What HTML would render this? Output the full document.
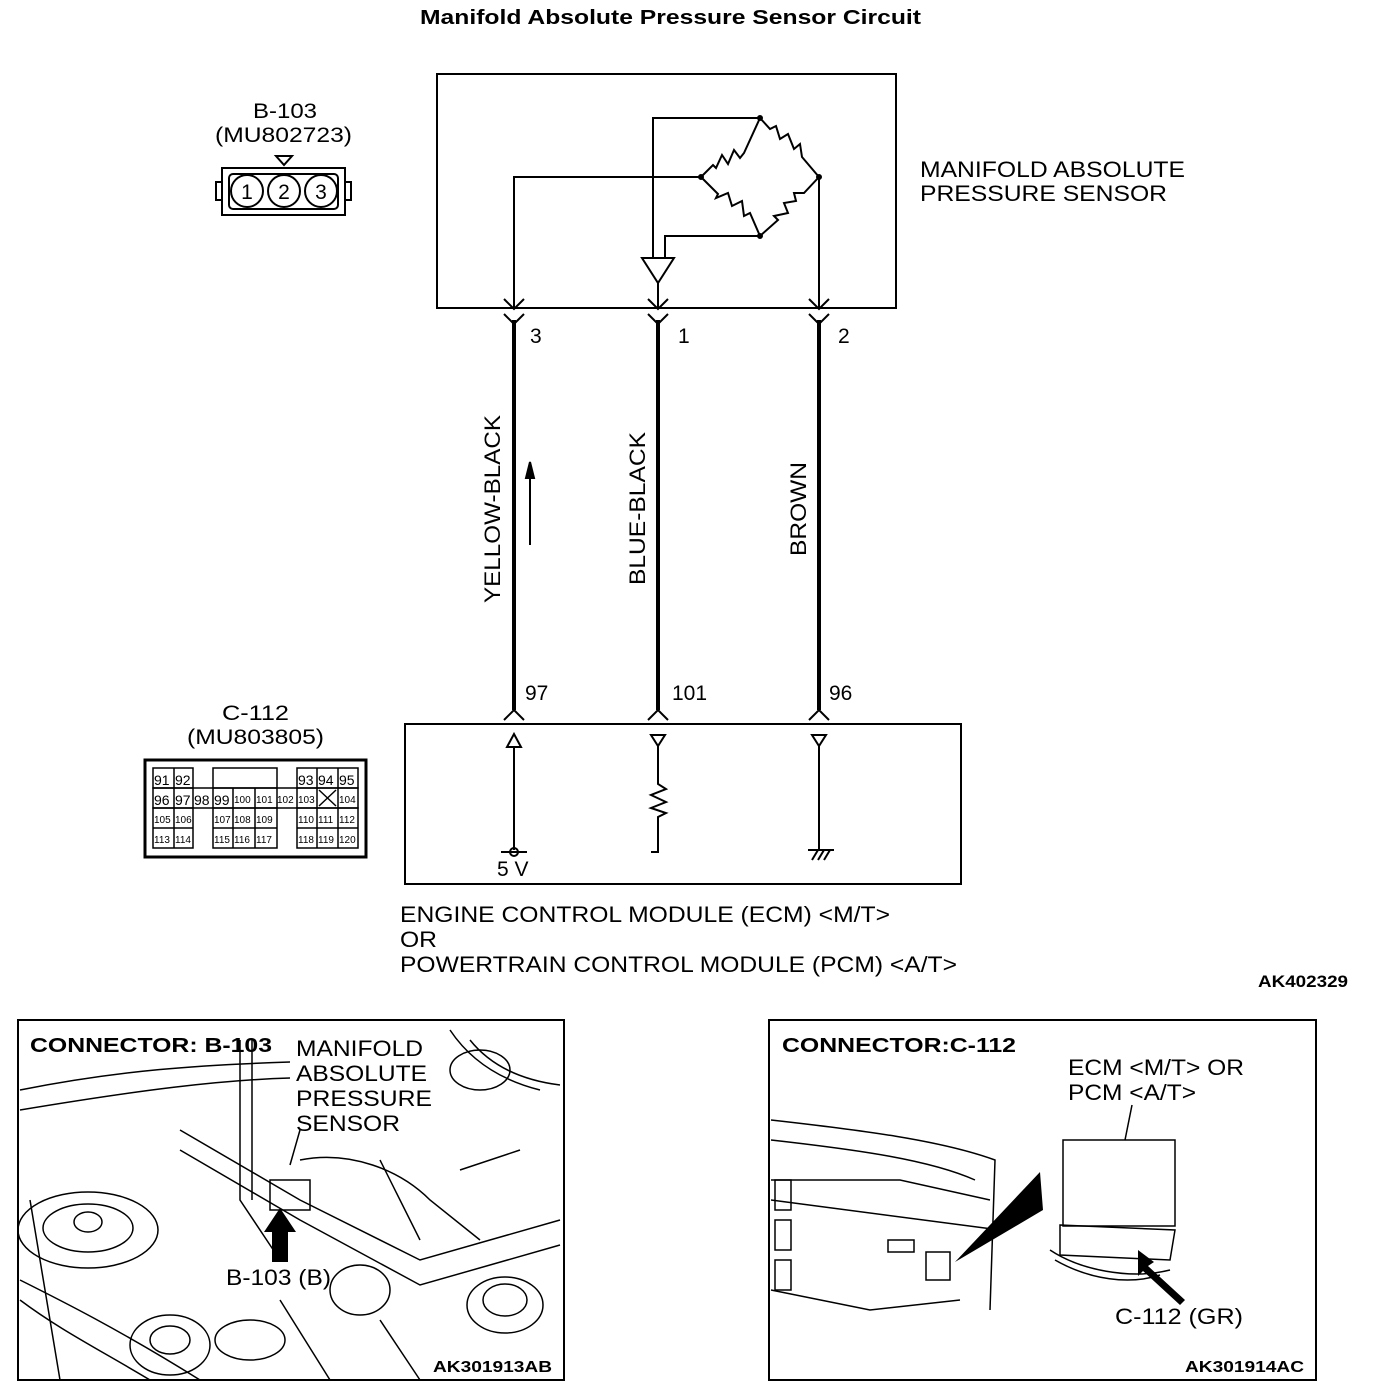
<!DOCTYPE html>
<html><head><meta charset="utf-8"><style>
html,body{margin:0;padding:0;background:#fff;}
svg{display:block;font-family:"Liberation Sans",sans-serif;}
</style></head><body>
<svg width="1376" height="1392" viewBox="0 0 1376 1392" xmlns="http://www.w3.org/2000/svg">
<g fill="none" stroke="#000" stroke-width="2">
<g fill="#000" stroke="none" lengthAdjust="spacingAndGlyphs">
<text x="420" y="24" font-size="20" font-weight="bold" textLength="501" lengthAdjust="spacingAndGlyphs">Manifold Absolute Pressure Sensor Circuit</text>
<text x="253" y="118" font-size="21" textLength="64" lengthAdjust="spacingAndGlyphs">B-103</text>
<text x="215" y="142" font-size="21" textLength="137" lengthAdjust="spacingAndGlyphs">(MU802723)</text>
<text x="920" y="177" font-size="22" textLength="265" lengthAdjust="spacingAndGlyphs">MANIFOLD ABSOLUTE</text>
<text x="920" y="201" font-size="22" textLength="247" lengthAdjust="spacingAndGlyphs">PRESSURE SENSOR</text>
<text transform="translate(500,603) rotate(-90)" font-size="22" textLength="188" lengthAdjust="spacingAndGlyphs">YELLOW-BLACK</text>
<text transform="translate(645,585) rotate(-90)" font-size="22" textLength="153" lengthAdjust="spacingAndGlyphs">BLUE-BLACK</text>
<text transform="translate(806,556) rotate(-90)" font-size="22" textLength="94" lengthAdjust="spacingAndGlyphs">BROWN</text>
<text x="400" y="922" font-size="22" textLength="490" lengthAdjust="spacingAndGlyphs">ENGINE CONTROL MODULE (ECM) &lt;M/T&gt;</text>
<text x="400" y="947" font-size="22" textLength="37" lengthAdjust="spacingAndGlyphs">OR</text>
<text x="400" y="972" font-size="22" textLength="557" lengthAdjust="spacingAndGlyphs">POWERTRAIN CONTROL MODULE (PCM) &lt;A/T&gt;</text>
<text x="1258" y="987" font-size="17" font-weight="bold" textLength="90" lengthAdjust="spacingAndGlyphs">AK402329</text>
<text x="222" y="720" font-size="21" textLength="67" lengthAdjust="spacingAndGlyphs">C-112</text>
<text x="187" y="744" font-size="21" textLength="137" lengthAdjust="spacingAndGlyphs">(MU803805)</text>
</g>

<!-- B-103 connector -->
<polygon points="276,156 292,156 284,165"/>
<rect x="222" y="168" width="123" height="47"/>
<rect x="216" y="182" width="6" height="18"/>
<rect x="345" y="182" width="6" height="18"/>
<rect x="229" y="174" width="109" height="35" rx="4"/>
<circle cx="247" cy="191" r="16"/><circle cx="284" cy="191" r="16"/><circle cx="321" cy="191" r="16"/>
<text x="247" y="199" font-size="21" text-anchor="middle" fill="#000" stroke="none">1</text>
<text x="284" y="199" font-size="21" text-anchor="middle" fill="#000" stroke="none">2</text>
<text x="321" y="199" font-size="21" text-anchor="middle" fill="#000" stroke="none">3</text>

<!-- Sensor box -->
<rect x="437" y="74" width="459" height="234"/>
<polyline points="514,308 514,177 701,177"/>
<polyline points="653,258 653,118 760,118"/>
<polyline points="665,258 665,236 760,236"/>
<polyline points="819,177 819,308"/>
<polyline points="701,177 713,165 716,168 722,155 728,164 734,150 740,158 744,153 760,118" />
<polyline points="760,118 770,129 776,126 780,139 788,134 794,149 800,144 802,157 819,177"/>
<polyline points="701,177 718,194 716,198 728,193 732,206 742,201 744,216 750,213 760,236"/>
<polyline points="760,236 778,220 774,216 788,213 784,203 796,201 794,193 804,193 819,177"/>
<circle cx="701" cy="177" r="2" fill="#000"/><circle cx="760" cy="118" r="2" fill="#000"/><circle cx="819" cy="177" r="2" fill="#000"/><circle cx="760" cy="236" r="2" fill="#000"/>
<polygon points="642,258 674,258 658,283"/>
<line x1="658" y1="283" x2="658" y2="308"/>
<polyline points="504,299 514,309 524,299"/><polyline points="504,314 514,324 524,314"/>
<polyline points="648,299 658,309 668,299"/><polyline points="648,314 658,324 668,314"/>
<polyline points="809,299 819,309 829,299"/><polyline points="809,314 819,324 829,314"/>
<g stroke-width="4">
<line x1="514" y1="320" x2="514" y2="710"/>
<line x1="658" y1="320" x2="658" y2="710"/>
<line x1="819" y1="320" x2="819" y2="710"/>
</g>
<text x="530" y="343" font-size="21" fill="#000" stroke="none">3</text>
<text x="678" y="343" font-size="21" fill="#000" stroke="none">1</text>
<text x="838" y="343" font-size="21" fill="#000" stroke="none">2</text>
<line x1="530" y1="545" x2="530" y2="468"/>
<polygon points="526,478 534,478 530,462" fill="#000"/>
<text x="525" y="700" font-size="21" fill="#000" stroke="none">97</text>
<text x="672" y="700" font-size="21" fill="#000" stroke="none">101</text>
<text x="829" y="700" font-size="21" fill="#000" stroke="none">96</text>
<polyline points="504,720 514,710 524,720"/>
<polyline points="648,720 658,710 668,720"/>
<polyline points="809,720 819,710 829,720"/>

<!-- ECM box -->
<rect x="405" y="724" width="556" height="160"/>
<polygon points="507,747 521,747 514,734"/>
<line x1="514" y1="747" x2="514" y2="850"/>
<line x1="501" y1="852" x2="527" y2="852"/><circle cx="514" cy="852" r="4"/>
<text x="497" y="876" font-size="21" fill="#000" stroke="none">5 V</text>
<polygon points="651,735 665,735 658,746"/>
<polyline points="658,746 658,784 666,789 651,795 666,802 651,808 666,813 658,817 658,852 651,852"/>
<polygon points="812,735 826,735 819,746"/>
<line x1="819" y1="746" x2="819" y2="850"/>
<line x1="808" y1="850" x2="834" y2="850"/>
<line x1="812" y1="860" x2="818" y2="850"/><line x1="818" y1="860" x2="824" y2="850"/><line x1="824" y1="860" x2="830" y2="850"/>

<!-- C-112 -->
<rect x="145" y="760" width="221" height="97" stroke-width="3"/>
<g stroke-width="1.5">
<rect x="153" y="768" width="40" height="20"/><line x1="174" y1="768" x2="174" y2="788"/>
<rect x="213" y="768" width="64" height="20"/>
<rect x="297" y="768" width="61" height="20"/><line x1="317" y1="768" x2="317" y2="788"/><line x1="338" y1="768" x2="338" y2="788"/>
<rect x="153" y="788" width="205" height="20"/>
<line x1="174" y1="788" x2="174" y2="808"/><line x1="193" y1="788" x2="193" y2="808"/><line x1="213" y1="788" x2="213" y2="808"/><line x1="233" y1="788" x2="233" y2="808"/><line x1="255" y1="788" x2="255" y2="808"/><line x1="277" y1="788" x2="277" y2="808"/><line x1="297" y1="788" x2="297" y2="808"/><line x1="317" y1="788" x2="317" y2="808"/><line x1="338" y1="788" x2="338" y2="808"/>
<line x1="319" y1="790" x2="336" y2="806"/><line x1="336" y1="790" x2="319" y2="806"/>
<rect x="153" y="808" width="40" height="40"/><line x1="153" y1="828" x2="193" y2="828"/><line x1="174" y1="808" x2="174" y2="848"/>
<rect x="213" y="808" width="64" height="40"/><line x1="213" y1="828" x2="277" y2="828"/><line x1="233" y1="808" x2="233" y2="848"/><line x1="255" y1="808" x2="255" y2="848"/>
<rect x="297" y="808" width="61" height="40"/><line x1="297" y1="828" x2="358" y2="828"/><line x1="317" y1="808" x2="317" y2="848"/><line x1="338" y1="808" x2="338" y2="848"/>
</g>
<g fill="#000" stroke="none" font-size="14">
<text x="154" y="785">91</text><text x="175" y="785">92</text><text x="298" y="785">93</text><text x="318" y="785">94</text><text x="339" y="785">95</text>
<text x="154" y="805">96</text><text x="175" y="805">97</text><text x="194" y="805">98</text><text x="214" y="805">99</text>
</g>
<g fill="#000" stroke="none" font-size="10">
<text x="234" y="803">100</text><text x="256" y="803">101</text><text x="277" y="803">102</text><text x="298" y="803">103</text><text x="339" y="803">104</text>
<text x="154" y="823">105</text><text x="175" y="823">106</text><text x="214" y="823">107</text><text x="234" y="823">108</text><text x="256" y="823">109</text><text x="298" y="823">110</text><text x="318" y="823">111</text><text x="339" y="823">112</text>
<text x="154" y="843">113</text><text x="175" y="843">114</text><text x="214" y="843">115</text><text x="234" y="843">116</text><text x="256" y="843">117</text><text x="298" y="843">118</text><text x="318" y="843">119</text><text x="339" y="843">120</text>
</g>

<!-- Bottom-left photo -->
<rect x="18" y="1020" width="546" height="360"/>
<g stroke-width="1.5">
<ellipse cx="88" cy="1230" rx="70" ry="38"/><ellipse cx="88" cy="1228" rx="45" ry="24"/><ellipse cx="88" cy="1222" rx="14" ry="10"/>
<path d="M20,1090 C120,1070 200,1065 290,1062"/><path d="M20,1110 C140,1090 220,1080 290,1078"/>
<path d="M240,1040 L240,1200 L280,1260"/><path d="M252,1040 L252,1200"/>
<path d="M180,1130 L300,1200 L420,1260 L560,1220"/><path d="M180,1150 L300,1220 L420,1285 L560,1245"/>
<path d="M20,1280 C60,1300 120,1330 200,1380"/><path d="M20,1300 C60,1330 100,1350 150,1380"/>
<path d="M30,1200 L60,1380"/>
<ellipse cx="170" cy="1345" rx="40" ry="30"/><ellipse cx="170" cy="1340" rx="20" ry="14"/>
<ellipse cx="505" cy="1305" rx="38" ry="28"/><ellipse cx="505" cy="1300" rx="22" ry="16"/>
<path d="M450,1030 C470,1060 500,1080 540,1090"/><path d="M470,1040 C490,1065 520,1080 560,1085"/>
<ellipse cx="480" cy="1070" rx="30" ry="20"/>
<path d="M300,1160 C350,1150 400,1170 430,1200 L480,1240"/>
<path d="M380,1160 L420,1240"/><path d="M460,1170 L520,1150"/>
<ellipse cx="360" cy="1290" rx="30" ry="25"/><ellipse cx="250" cy="1340" rx="35" ry="20"/>
<path d="M280,1300 L330,1380"/><path d="M380,1320 L420,1380"/>
<rect x="270" y="1180" width="40" height="30"/>
<path d="M290,1165 L300,1130"/>
</g>
<polygon points="272,1262 272,1232 264,1232 280,1208 296,1232 288,1232 288,1262" fill="#000" stroke="none"/>
<g fill="#000" stroke="none">
<text x="30" y="1052" font-size="20" font-weight="bold" textLength="242" lengthAdjust="spacingAndGlyphs">CONNECTOR: B-103</text>
<text x="296" y="1056" font-size="22" textLength="127" lengthAdjust="spacingAndGlyphs">MANIFOLD</text>
<text x="296" y="1081" font-size="22" textLength="131" lengthAdjust="spacingAndGlyphs">ABSOLUTE</text>
<text x="296" y="1106" font-size="22" textLength="136" lengthAdjust="spacingAndGlyphs">PRESSURE</text>
<text x="296" y="1131" font-size="22" textLength="104" lengthAdjust="spacingAndGlyphs">SENSOR</text>
<text x="226" y="1285" font-size="22" textLength="105" lengthAdjust="spacingAndGlyphs">B-103 (B)</text>
<text x="433" y="1372" font-size="16" font-weight="bold" textLength="119" lengthAdjust="spacingAndGlyphs">AK301913AB</text>
</g>

<!-- Bottom-right photo -->
<rect x="769" y="1020" width="547" height="360"/>
<g stroke-width="1.5">
<path d="M771,1120 C860,1130 940,1140 995,1160 L990,1310"/>
<path d="M771,1140 C860,1150 930,1160 975,1180"/>
<path d="M771,1180 L900,1180 L990,1200"/>
<path d="M771,1200 L1000,1230"/>
<path d="M771,1290 L870,1310 L960,1300"/>
<rect x="775" y="1180" width="16" height="30"/><rect x="775" y="1220" width="16" height="30"/><rect x="775" y="1260" width="16" height="30"/>
<rect x="888" y="1240" width="26" height="12"/>
<rect x="926" y="1252" width="24" height="28"/>
<rect x="1063" y="1140" width="112" height="86"/>
<path d="M1060,1225 L1175,1230 L1170,1260 L1060,1255 Z"/>
<path d="M1050,1250 C1080,1270 1130,1280 1170,1270"/><path d="M1055,1260 C1090,1280 1130,1285 1160,1275"/>
<line x1="1125" y1="1140" x2="1132" y2="1105"/>
</g>
<polygon points="955,1262 1040,1172 1043,1210" fill="#000" stroke="none"/>
<polygon points="1138,1250 1154,1262 1148,1266 1185,1300 1180,1305 1143,1271 1138,1276" fill="#000" stroke="none"/>
<g fill="#000" stroke="none">
<text x="782" y="1052" font-size="20" font-weight="bold" textLength="234" lengthAdjust="spacingAndGlyphs">CONNECTOR:C-112</text>
<text x="1068" y="1075" font-size="22" textLength="176" lengthAdjust="spacingAndGlyphs">ECM &lt;M/T&gt; OR</text>
<text x="1068" y="1100" font-size="22" textLength="128" lengthAdjust="spacingAndGlyphs">PCM &lt;A/T&gt;</text>
<text x="1115" y="1324" font-size="22" textLength="128" lengthAdjust="spacingAndGlyphs">C-112 (GR)</text>
<text x="1185" y="1372" font-size="16" font-weight="bold" textLength="119" lengthAdjust="spacingAndGlyphs">AK301914AC</text>
</g>
</g>
</svg>
</body></html>
